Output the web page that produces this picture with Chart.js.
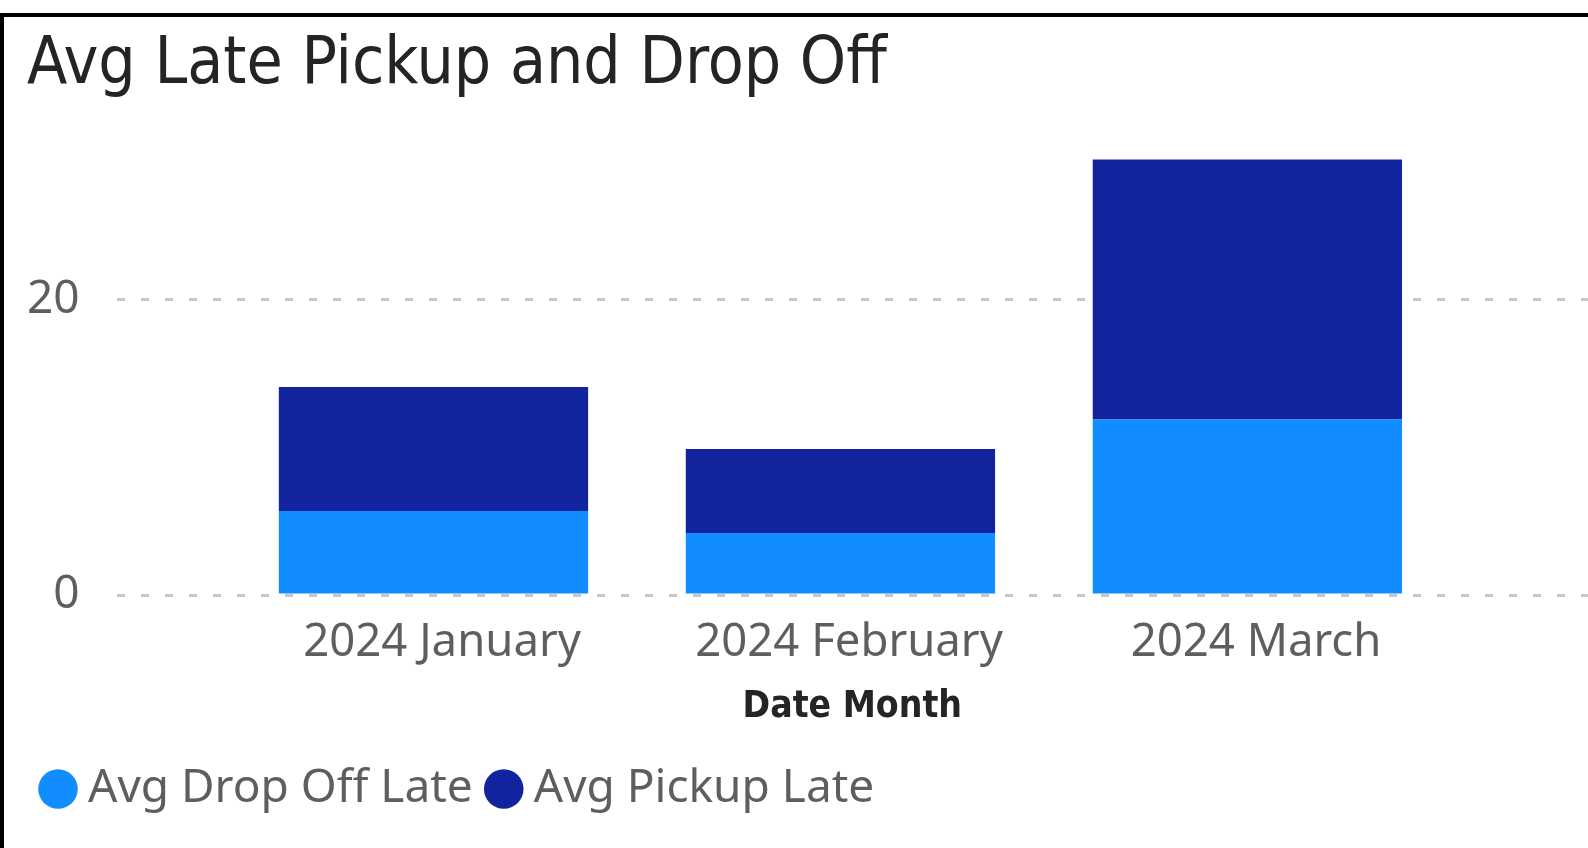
<!DOCTYPE html>
<html><head><meta charset="utf-8">
<script src="https://cdn.jsdelivr.net/npm/chart.js@4"></script>
<style>
html,body{margin:0;padding:0;background:#fff;width:1588px;height:848px;overflow:hidden}
#wrap{position:absolute;left:0;top:0;width:1588px;height:848px}
#frame{position:absolute;left:0;top:13px;width:1620px;height:900px;border:4px solid #000;box-sizing:border-box;pointer-events:none;z-index:2}
</style></head><body>
<div id="wrap"><canvas id="c" width="1588" height="848"></canvas></div>
<div id="frame"></div>
<script>
const categories = ['2024 January', '2024 February', '2024 March'];
const dropOffLate = [5.7, 4.2, 11.9];
const pickupLate = [8.4, 5.7, 17.6];
const yTickValues = [0, 20];
const seriesNames = ['Avg Drop Off Late', 'Avg Pickup Late'];

const toPoints = arr => arr.map((v, i) => ({x: i, y: v}));

new Chart(document.getElementById('c'), {
  type: 'bar',
  data: {
    datasets: [
      {label: seriesNames[0], data: toPoints(dropOffLate), backgroundColor: '#118DFF', borderWidth: 0},
      {label: seriesNames[1], data: toPoints(pickupLate), backgroundColor: '#12239E', borderWidth: 0}
    ]
  },
  options: {
    responsive: false,
    animation: false,
    devicePixelRatio: 1,
    layout: {padding: {left: 27, right: 0, top: 0, bottom: 26}},
    datasets: {bar: {categoryPercentage: 1, barPercentage: 0.76}},
    scales: {
      x: {
        type: 'linear',
        stacked: true,
        offset: false,
        min: -0.7786,
        max: 2.837,
        afterBuildTicks: s => { s.ticks = categories.map((_, i) => ({value: i})); },
        afterFit: s => { s.paddingLeft = 0; s.paddingRight = 0; },
        grid: {display: false, drawTicks: false, offset: false},
        border: {display: false},
        ticks: {
          callback: v => categories[v] ?? '',
          color: '#605E5C',
          font: {family: "'Noto Sans'", size: 45.5},
          padding: 20.7,
          labelOffset: 8.6,
          maxRotation: 0,
          autoSkip: false
        },
        title: {
          display: true,
          text: 'Date Month',
          color: '#252423',
          font: {family: "'DejaVu Sans Condensed'", size: 37, weight: 'bold', lineHeight: 0.9},
          padding: {top: 0, bottom: 17.6}
        }
      },
      y: {
        stacked: true,
        min: 0,
        max: 32,
        afterBuildTicks: s => { s.ticks = yTickValues.map(v => ({value: v})); },
        afterFit: s => { s.width -= s.options.ticks.padding; },
        grid: {color: '#c8c8c8', lineWidth: 3, drawTicks: false},
        border: {display: false, dash: [8, 16]},
        ticks: {
          color: '#605E5C',
          font: {family: "'Noto Sans'", size: 46},
          padding: 37
        }
      }
    },
    plugins: {
      title: {
        display: true,
        text: 'Avg Late Pickup and Drop Off',
        align: 'start',
        color: '#252423',
        font: {family: "'DejaVu Sans Condensed'", size: 65.5, weight: 'normal'},
        padding: {top: 27, bottom: 17}
      },
      legend: {
        position: 'bottom',
        align: 'start',
        labels: {
          usePointStyle: true,
          pointStyle: 'circle',
          boxWidth: 14,
          boxHeight: 28,
          padding: 24,
          color: '#605E5C',
          font: {family: "'Noto Sans'", size: 46}
        }
      },
      tooltip: {enabled: false}
    }
  }
});
</script>
</body></html>
